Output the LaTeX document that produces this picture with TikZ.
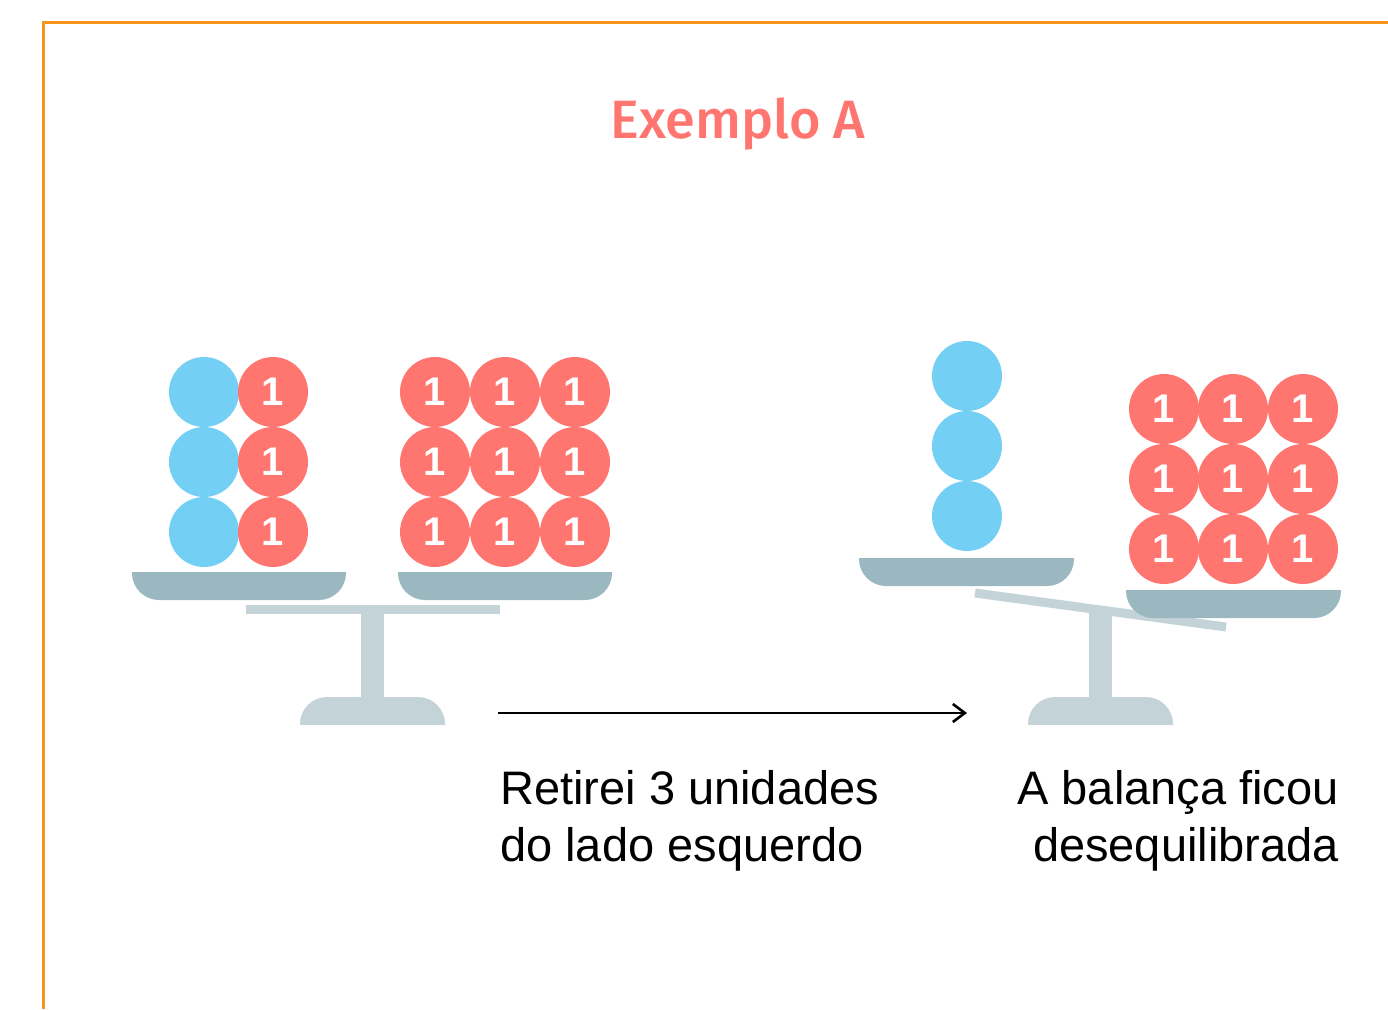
\documentclass[tikz,border=0pt]{standalone}
\usepackage{fontspec}
\setmainfont{Liberation Sans}
\newfontfamily\titlefont[UprightFont={* Medium}]{Fira Sans}
\usetikzlibrary{arrows.meta,positioning}
\definecolor{exorange}{HTML}{F7941D}
\definecolor{exsalmon}{HTML}{FF7570}
\definecolor{exblue}{HTML}{74CFF4}
\definecolor{expan}{HTML}{9BB8C0}
\definecolor{exstand}{HTML}{C3D3D8}

\begin{document}
\begin{tikzpicture}[x=1pt,y=-1pt,>={Straight Barb[length=12pt,width=18pt]},
    unit/.style={circle,fill=exsalmon,minimum size=70pt,inner sep=0pt,text=white,font=\fontsize{40}{40}\selectfont\bfseries},
    ball/.style={circle,fill=exblue,minimum size=70pt,inner sep=0pt},
    caption/.style={font=\fontsize{47}{57}\selectfont,inner sep=0pt}]
    \useasboundingbox (0,0) rectangle (1388,1009);
    \draw[exorange,line width=3pt] (43,1009) -- (43,22) -- (1388,22);
    \node[text=exsalmon,font=\titlefont\fontsize{54}{54}\selectfont] (title) at (738,124) {Exemplo A};

    % balance before: stand, beam and pans
    \fill[exstand] (361,612) rectangle (384,698);
    \draw[exstand,line width=9pt] (246,609.5) -- (500,609.5);
    \begin{scope}
      \clip (300,697) rectangle (445,724);
      \fill[exstand,rounded corners=27pt] (300,697) rectangle (445,760);
    \end{scope}
    \begin{scope}
      \clip (132,572) rectangle (612,600);
      \fill[expan,rounded corners=27pt] (132,540) rectangle (346,600);
      \fill[expan,rounded corners=27pt] (398,540) rectangle (612,600);
    \end{scope}
    \foreach \r/\y in {1/392,2/462,3/532} {
      \node[ball] (bl\r) at (204,\y) {};
      \node[unit] (ul\r) at (273,\y) {1};
      \foreach \c/\x in {1/435,2/505,3/575}
        \node[unit] (ur\r\c) at (\x,\y) {1};
    }

    % balance after: the beam tips to the right
    \fill[exstand] (1089,612) rectangle (1112,698);
    \draw[exstand,line width=9pt] (975,593) -- (1226,627);
    \begin{scope}
      \clip (1028,697) rectangle (1173,724);
      \fill[exstand,rounded corners=27pt] (1028,697) rectangle (1173,760);
    \end{scope}
    \begin{scope}
      \clip (859,558) rectangle (1074,586);
      \fill[expan,rounded corners=27pt] (859,520) rectangle (1074,586);
    \end{scope}
    \begin{scope}
      \clip (1126,590) rectangle (1341,618);
      \fill[expan,rounded corners=27pt] (1126,550) rectangle (1341,618);
    \end{scope}
    \foreach \r/\y in {1/376,2/446,3/516}
      \node[ball] (ba\r) at (967,\y) {};
    \foreach \r/\y in {1/409,2/479,3/549}
      \foreach \c/\x in {1/1164,2/1233,3/1303}
        \node[unit] (ua\r\c) at (\x,\y) {1};

    \coordinate (from) at (498,713);
    \coordinate (to) at (967,713);
    \draw[->,line width=2.6pt] (from) -- (to);
    \node[caption,align=left,anchor=north west] (removed) at (500,770) {Retirei 3 unidades\\do lado esquerdo};
    \node[caption,align=right,anchor=north east] (tipped) at (1339,770) {A balança ficou\\desequilibrada};
  \end{tikzpicture}
\end{document}
